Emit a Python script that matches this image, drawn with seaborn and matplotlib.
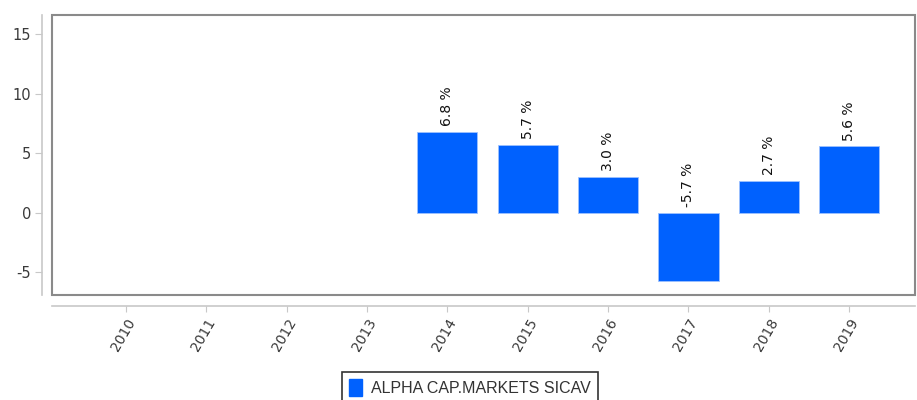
import numpy as np
import pandas as pd
import matplotlib
matplotlib.use("Agg")
import matplotlib.pyplot as plt
from matplotlib.patches import Rectangle, Patch
import seaborn as sns

years = ['2010', '2011', '2012', '2013', '2014', '2015', '2016', '2017', '2018', '2019']
returns = [np.nan, np.nan, np.nan, np.nan, 6.8, 5.7, 3.0, -5.7, 2.7, 5.6]
series_name = 'ALPHA CAP.MARKETS SICAV'
bar_color = '#0061fe'

df = pd.DataFrame({'year': years, 'ret': returns})

sns.set_style('white')
plt.rcParams['font.family'] = ['DejaVu Sans']
plt.rcParams['axes.unicode_minus'] = False

fig = plt.figure(figsize=(9.17, 4.0), dpi=100)
ax = fig.add_axes([52 / 917, 105 / 400, 863 / 917, 280 / 400])

sns.barplot(data=df, x='year', y='ret', order=years, color=bar_color,
            width=0.75, saturation=1, edgecolor='#9ec2ff', linewidth=0.6, ax=ax)

for i, v in enumerate(returns):
    if np.isnan(v):
        continue
    top = max(v, 0)
    ax.annotate(f'{v:.1f} %', (i, top), xytext=(0, 4), textcoords='offset points',
                rotation=90, ha='center', va='bottom', fontsize=10, color='#111111')

ax.set_xlim(-0.92, 9.82)
ax.set_ylim(-6.9, 16.6)
ax.set_yticks([-5, 0, 5, 10, 15])
ax.set_xlabel('')
ax.set_ylabel('')

for s in ['top', 'right']:
    ax.spines[s].set_visible(False)
for s in ['left', 'bottom']:
    ax.spines[s].set_color('#c8c8c8')
    ax.spines[s].set_linewidth(1.2)
ax.spines['left'].set_position(('outward', 7))
ax.spines['bottom'].set_position(('outward', 8))

ax.add_patch(Rectangle((0, 0), 1, 1, transform=ax.transAxes, fill=False,
                       edgecolor='#8a8a8a', linewidth=1.5, clip_on=False, zorder=5))

ax.tick_params(axis='y', which='both', left=True, length=5, color='#c8c8c8',
               labelsize=10.5, labelcolor='#3a3a3a', pad=3)
ax.tick_params(axis='x', which='both', bottom=True, length=4, color='#c8c8c8',
               labelsize=10, labelcolor='#3a3a3a', pad=3)
for lbl in ax.get_xticklabels():
    lbl.set_rotation(60)
    lbl.set_ha('right')
    lbl.set_rotation_mode('anchor')

handle = Patch(facecolor=bar_color, edgecolor=bar_color)
leg = fig.legend([handle], [series_name], loc='upper center',
                 bbox_to_anchor=(470 / 917, 28 / 400), frameon=True, fancybox=False,
                 edgecolor='black', handlelength=0.8, handleheight=1.2,
                 handletextpad=0.6, borderpad=0.45, borderaxespad=0,
                 prop={'family': ['Liberation Sans', 'DejaVu Sans'], 'size': 11.5})
leg.get_frame().set_linewidth(1.2)
for t in leg.get_texts():
    t.set_color('#333333')

fig.savefig('out.png', dpi=100)
